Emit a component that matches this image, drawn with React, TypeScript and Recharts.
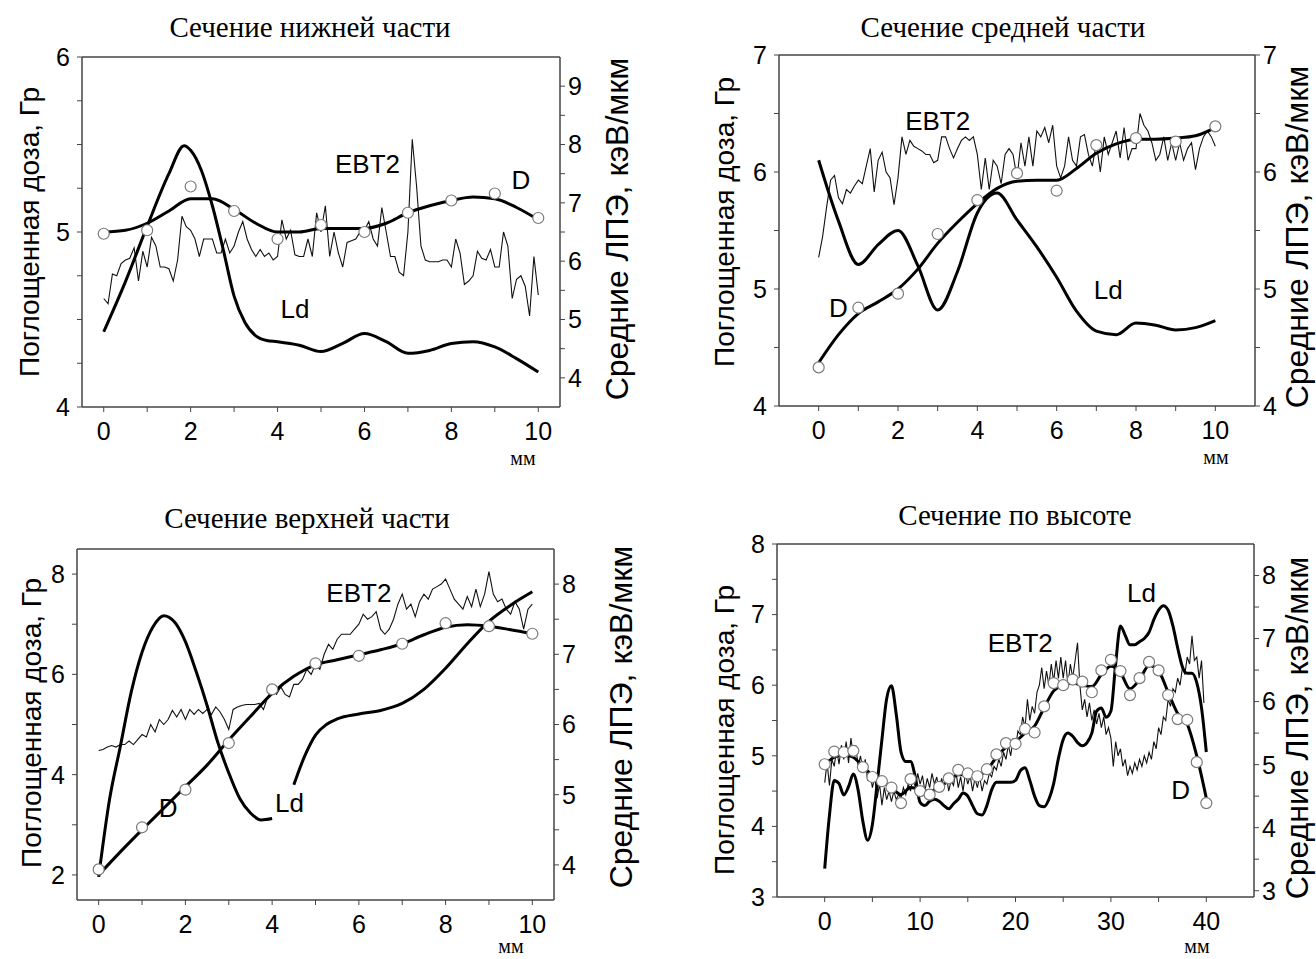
import React from 'react'
import { LineChart, Line, XAxis, YAxis, ReferenceDot, ReferenceLine } from 'recharts'

const SANS = '"Liberation Sans", Arial, sans-serif'
const SERIF = '"Liberation Serif", "Times New Roman", serif'

// ---------- panel 1: Сечение нижней части ----------
const p1DoseX = [0, 1, 2, 3, 4, 5, 6, 7, 8, 9, 10]
const p1DosePts = [4.99, 5.01, 5.26, 5.12, 4.96, 5.04, 5.0, 5.11, 5.18, 5.22, 5.08]
const p1FitX = [0, 0.5, 1, 1.5, 2, 2.5, 3, 3.5, 4, 4.5, 5, 5.5, 6, 6.5, 7, 7.5, 8, 8.5, 9, 9.5, 10]
const p1DoseFit = [5.0, 5.01, 5.05, 5.12, 5.19, 5.19, 5.13, 5.05, 5.0, 5.0, 5.02, 5.02, 5.02, 5.05, 5.11, 5.15, 5.18, 5.2, 5.19, 5.14, 5.07]
const p1LdX = [0, 0.5, 1, 1.5, 1.85, 2, 2.25, 2.5, 2.75, 3, 3.25, 3.5, 3.75, 4, 4.5, 5, 5.5, 6, 6.5, 7, 7.5, 8, 8.5, 9, 9.5, 10]
const p1Ld = [4.79, 5.65, 6.6, 7.5, 7.98, 7.9, 7.55, 6.95, 6.2, 5.4, 4.95, 4.72, 4.64, 4.62, 4.56, 4.45, 4.59, 4.76, 4.62, 4.42, 4.47, 4.59, 4.62, 4.53, 4.33, 4.1]
const p1Ebt = [
  4.62, 4.59, 4.76, 4.75, 4.82, 4.84, 4.85, 4.91, 4.72, 4.89,
  4.8, 4.97, 4.92, 4.8, 4.8, 4.79, 4.72, 4.84, 5.09, 5.03,
  5.01, 4.96, 4.86, 4.96, 4.96, 4.96, 4.88, 4.88, 4.96, 4.88,
  4.92, 5.0, 5.06, 4.96, 4.9, 4.86, 4.9, 4.86, 4.88, 4.84,
  4.86, 5.07, 4.96, 5.01, 4.87, 4.86, 4.86, 4.96, 4.86, 5.11,
  5.0, 5.15, 4.86, 5.0, 4.88, 4.8, 4.94, 4.95, 4.96, 5.0,
  5.01, 5.06, 4.96, 4.92, 5.14, 5.0, 4.86, 4.86, 4.77, 4.75,
  5.0, 5.53, 5.26, 4.92, 4.84, 4.83, 4.83, 4.83, 4.84, 4.84,
  4.8, 4.96, 4.88, 4.7, 4.72, 4.75, 4.89, 4.85, 4.84, 4.9,
  4.8, 4.8, 5.0, 4.92, 4.62, 4.73, 4.75, 4.69, 4.52, 4.86,
  4.64,
]

// ---------- panel 2: Сечение средней части ----------
const p2DosePts = [4.33, 4.84, 4.96, 5.47, 5.76, 5.99, 5.84, 6.23, 6.29, 6.26, 6.39]
const p2DoseFit = [4.37, 4.61, 4.79, 4.89, 5.0, 5.17, 5.39, 5.57, 5.73, 5.86, 5.92, 5.93, 5.93, 6.03, 6.16, 6.24, 6.28, 6.28, 6.29, 6.31, 6.38]
const p2Ld = [6.1, 5.58, 5.21, 5.38, 5.5, 5.2, 4.82, 5.15, 5.65, 5.82, 5.59, 5.36, 5.1, 4.81, 4.64, 4.61, 4.71, 4.69, 4.65, 4.67, 4.73]
const p2Ebt = [
  5.27, 5.45, 5.7, 5.93, 5.97, 5.78, 5.73, 5.85, 5.82, 5.88,
  5.93, 5.9, 6.05, 6.2, 5.83, 6.1, 6.17, 6.0, 5.95, 5.72,
  5.95, 6.3, 6.15, 6.27, 6.22, 6.2, 6.18, 6.15, 6.15, 6.08,
  6.1, 6.3, 6.3, 6.2, 6.12, 6.2, 6.27, 6.3, 6.27, 6.3,
  6.15, 5.85, 6.12, 5.85, 6.1, 6.05, 5.9, 6.15, 6.2, 6.15,
  5.95, 6.25, 6.05, 6.3, 6.05, 6.35, 6.3, 6.38, 6.25, 6.4,
  6.05, 5.95, 6.05, 6.3, 6.1, 6.05, 6.3, 6.32, 6.15, 6.05,
  6.25, 6.0, 6.3, 6.15, 6.25, 6.35, 6.12, 6.38, 6.1, 6.2,
  6.2, 6.5, 6.4, 6.35, 6.25, 6.1, 6.15, 6.3, 6.1, 6.25,
  6.1, 6.25, 6.1, 6.2, 6.25, 6.02, 6.2, 6.3, 6.35, 6.3,
  6.22,
]

// ---------- panel 3: Сечение верхней части ----------
const p3DosePts = [2.11, 2.95, 3.7, 4.63, 5.7, 6.22, 6.37, 6.61, 7.02, 6.96, 6.81]
const p3DoseFit = [2.0, 2.46, 2.9, 3.33, 3.76, 4.19, 4.69, 5.16, 5.62, 5.96, 6.19, 6.29, 6.39, 6.49, 6.61, 6.79, 6.94, 6.99, 6.96, 6.89, 6.81]
const p3LdX = [0, 0.25, 0.5, 0.75, 1, 1.25, 1.5, 1.75, 2, 2.25, 2.5, 2.75, 3, 3.25, 3.5, 3.75, 4, 4.25, 4.5, 4.75, 5, 5.25, 5.5, 6, 6.5, 7, 7.5, 8, 8.5, 9, 9.5, 10]
const p3Ld = [3.83, 4.93, 5.69, 6.46, 7.03, 7.39, 7.55, 7.46, 7.18, 6.75, 6.27, 5.74, 5.31, 4.95, 4.74, 4.64, 4.66, null, 5.14, 5.55, 5.85, 6.0, 6.08, 6.15, 6.2, 6.3, 6.5, 6.8, 7.15, 7.47, 7.7, 7.89]
const p3Ebt = [
  4.48, 4.5, 4.55, 4.58, 4.55, 4.6, 4.6, 4.67, 4.6, 4.7,
  4.8, 4.75, 5.0, 4.85, 5.1, 5.0, 5.1, 5.28, 5.15, 5.3,
  5.1, 5.3, 5.2, 5.3, 5.22, 5.3, 5.2, 5.35, 5.25, 5.1,
  4.9, 5.3, 5.35, 5.38, 5.4, 5.4, 5.4, 5.42, 5.3, 5.55,
  5.7, 5.6, 5.75, 5.6, 5.55, 5.8, 5.8, 5.9, 6.1, 6.0,
  6.2, 6.1, 6.4, 6.6, 6.5, 6.7, 6.8, 6.8, 6.8, 6.9,
  7.0, 7.2, 7.1, 7.15, 7.25, 6.9, 6.8, 6.9, 7.1, 7.4,
  7.6, 7.3, 7.4, 7.15, 7.45, 7.6, 7.5, 7.7, 7.75, 7.8,
  7.9, 7.7, 7.5, 7.4, 7.3, 7.55, 7.35, 7.7, 7.35, 7.6,
  8.05, 7.6, 7.45, 7.5, 7.3, 7.2, 7.45, 7.3, 6.9, 7.3,
  7.4,
]

// ---------- panel 4: Сечение по высоте ----------
const p4DosePts = [
  4.88, 5.06, 5.05, 5.07, 4.84, 4.7, 4.64, 4.55, 4.33, 4.67,
  4.5, 4.45, 4.56, 4.68, 4.8, 4.75, 4.71, 4.81, 5.02, 5.18,
  5.17, 5.38, 5.33, 5.7, 6.03, 6.0, 6.08, 6.05, 5.9, 6.21,
  6.36, 6.2, 5.86, 6.1, 6.33, 6.21, 5.86, 5.52, 5.51, 4.91,
  4.33,
]
const p4DoseFit = [
  4.88, 4.98, 5.02, 4.98, 4.85, 4.72, 4.63, 4.55, 4.45, 4.55,
  4.52, 4.5, 4.55, 4.65, 4.73, 4.73, 4.72, 4.8, 4.98, 5.12,
  5.2, 5.32, 5.42, 5.68, 5.92, 6.0, 6.03, 6.0, 5.98, 6.15,
  6.27, 6.18, 5.95, 6.08, 6.28, 6.2, 5.9, 5.6, 5.45, 5.0,
  4.4,
]
const p4Ld = [
  3.35, 4.2, 4.75, 4.7, 4.52, 4.65, 4.85, 4.6, 4.1, 3.8,
  4.05, 4.7, 5.4, 6.05, 6.25, 5.8, 5.2, 5.05, 5.05, 4.8,
  4.4, 4.35, 4.42, 4.45, 4.42, 4.35, 4.3, 4.38, 4.45, 4.55,
  4.5, 4.35, 4.22, 4.2, 4.35, 4.6, 4.72, 4.72, 4.72, 4.72,
  4.75, 4.9, 4.95, 4.75, 4.5, 4.35, 4.33, 4.45, 4.7, 5.1,
  5.4, 5.5, 5.45, 5.35, 5.3, 5.35, 5.5, 5.85, 5.9, 5.75,
  5.85, 6.6, 7.2, 7.05, 6.9, 6.9, 6.95, 7.0, 7.1, 7.3,
  7.45, 7.52, 7.45, 7.2, 6.85, 6.55, 6.45, 6.45, 6.3, 5.9,
  5.2,
]
const p4Ebt = [
  4.62, 4.9, 4.58, 4.95, 4.85, 5.1, 4.88, 5.15, 4.95, 5.2,
  4.9, 5.25, 5.0, 5.15, 4.85, 5.0, 4.8, 4.95, 4.65, 4.75,
  4.55, 4.7, 4.4, 4.6, 4.3, 4.55, 4.38, 4.5, 4.35, 4.5,
  4.38, 4.45, 4.4, 4.55, 4.45, 4.6, 4.5, 4.7, 4.55, 4.75,
  4.6, 4.72, 4.5, 4.68, 4.55, 4.75, 4.6, 4.7, 4.5, 4.68,
  4.55, 4.72, 4.5, 4.65, 4.58, 4.78, 4.55, 4.7, 4.5, 4.75,
  4.6, 4.72, 4.5, 4.68, 4.55, 4.7, 4.5, 4.65, 4.6, 4.75,
  4.7, 4.85, 4.8, 4.95, 4.85, 5.05, 4.95, 5.15, 5.0, 5.25,
  5.1, 5.35, 5.3, 5.55, 5.4, 5.8, 5.5, 5.7, 5.6, 5.9,
  6.0, 6.25, 5.95, 6.2, 6.0, 6.3, 6.05, 6.35, 6.1, 6.4,
  6.1, 6.35, 6.0, 6.3, 6.1, 6.35, 6.6, 6.0, 5.65, 5.8,
  5.55, 5.75, 5.5, 5.65, 5.45, 5.6, 5.4, 5.55, 5.3, 5.4,
  5.25, 4.85, 5.2, 5.0, 5.1, 4.85, 4.95, 4.72, 4.85, 4.75,
  4.9, 4.8, 4.95, 4.85, 5.0, 4.9, 5.05, 4.95, 5.2, 5.1,
  5.4, 5.3, 5.55, 5.5, 5.8, 5.7, 5.95, 5.9, 6.1, 6.0,
  6.25, 6.15, 6.4, 6.3, 6.7, 6.35, 6.4, 6.1, 6.35, 5.75,
]

// ---------- ticks ----------
const ticks0to10 = [0, 1, 2, 3, 4, 5, 6, 7, 8, 9, 10]
const ticks0to40 = [0, 5, 10, 15, 20, 25, 30, 35, 40]
const p1LeftTicks = [4, 4.25, 4.5, 4.75, 5, 5.25, 5.5, 5.75, 6]
const p1RightTicks = [4, 4.5, 5, 5.5, 6, 6.5, 7, 7.5, 8, 8.5, 9]
const p2Ticks = [4, 4.5, 5, 5.5, 6, 6.5, 7]
const p3LeftTicks = [2, 3, 4, 5, 6, 7, 8]
const p3RightTicks = [4, 4.5, 5, 5.5, 6, 6.5, 7, 7.5, 8]
const p4Ticks = [3, 3.5, 4, 4.5, 5, 5.5, 6, 6.5, 7, 7.5, 8]

const steps = (n: number, step: number) => Array.from({ length: n }, (_, i) => +(i * step).toFixed(2))
const zip = (xs: number[], ys: (number | null)[]) => xs.map((x, i) => ({ x, y: ys[i] }))

const intLabel = (v: number) => (Number.isInteger(v) ? String(v) : '')
const evenLabel = (v: number) => (v % 2 === 0 ? String(v) : '')
const tenLabel = (v: number) => (v % 10 === 0 ? String(v) : '')

const panels = [
  {
    title: 'Сечение нижней части',
    titleX: 310, titleY: 27,
    frame: { l: 82, r: 560, t: 57, b: 407 },
    xDomain: [-0.5, 10.5], xTicks: ticks0to10, xFmt: evenLabel,
    leftDomain: [4, 6], leftTicks: p1LeftTicks, leftFmt: intLabel,
    rightDomain: [3.5, 9.5], rightTicks: p1RightTicks, rightFmt: intLabel,
    ebt: zip(steps(101, 0.1), p1Ebt),
    ld: zip(p1LdX, p1Ld),
    fit: zip(p1FitX, p1DoseFit),
    pts: zip(p1DoseX, p1DosePts),
    notes: [{ t: 'EBT2', x: 6.07, y: 5.39 }, { t: 'D', x: 9.6, y: 5.3 }, { t: 'Ld', x: 4.4, y: 4.56 }],
    leftLab: { x: 30, y: 232 }, rightLab: { x: 617, y: 229 }, mm: { x: 523, y: 458 },
  },
  {
    title: 'Сечение средней части',
    titleX: 1003, titleY: 27,
    frame: { l: 779, r: 1255, t: 55, b: 406 },
    xDomain: [-1, 11], xTicks: ticks0to10, xFmt: evenLabel,
    leftDomain: [4, 7], leftTicks: p2Ticks, leftFmt: intLabel,
    rightDomain: [4, 7], rightTicks: p2Ticks, rightFmt: intLabel,
    ebt: zip(steps(101, 0.1), p2Ebt),
    ld: zip(p1FitX, p2Ld),
    fit: zip(p1FitX, p2DoseFit),
    pts: zip(p1DoseX, p2DosePts),
    notes: [{ t: 'EBT2', x: 3.0, y: 6.44 }, { t: 'D', x: 0.5, y: 4.84 }, { t: 'Ld', x: 7.3, y: 4.99 }],
    leftLab: { x: 725, y: 222 }, rightLab: { x: 1297, y: 237 }, mm: { x: 1216, y: 457 },
  },
  {
    title: 'Сечение верхней части',
    titleX: 307, titleY: 518,
    frame: { l: 77, r: 554, t: 549, b: 900 },
    xDomain: [-0.5, 10.5], xTicks: ticks0to10, xFmt: evenLabel,
    leftDomain: [1.5, 8.5], leftTicks: p3LeftTicks, leftFmt: evenLabel,
    rightDomain: [3.5, 8.5], rightTicks: p3RightTicks, rightFmt: intLabel,
    ebt: zip(steps(101, 0.1), p3Ebt),
    ld: zip(p3LdX, p3Ld),
    fit: zip(p1FitX, p3DoseFit),
    pts: zip(p1DoseX, p3DosePts),
    notes: [{ t: 'EBT2', x: 6.0, y: 7.62 }, { t: 'D', x: 1.6, y: 3.33 }, { t: 'Ld', x: 4.4, y: 3.43 }],
    leftLab: { x: 32, y: 723 }, rightLab: { x: 621, y: 717 }, mm: { x: 511, y: 946 },
  },
  {
    title: 'Сечение по высоте',
    titleX: 1015, titleY: 515,
    frame: { l: 777, r: 1254, t: 544, b: 897 },
    xDomain: [-5, 45], xTicks: ticks0to40, xFmt: tenLabel,
    leftDomain: [3, 8], leftTicks: p4Ticks, leftFmt: intLabel,
    rightDomain: [2.9, 8.5], rightTicks: p4Ticks, rightFmt: intLabel,
    ebt: zip(steps(160, 0.25), p4Ebt),
    ld: zip(steps(81, 0.5), p4Ld),
    fit: zip(steps(41, 1), p4DoseFit),
    pts: zip(steps(41, 1), p4DosePts),
    notes: [{ t: 'EBT2', x: 20.5, y: 6.6 }, { t: 'Ld', x: 33.2, y: 7.31 }, { t: 'D', x: 37.3, y: 4.52 }],
    leftLab: { x: 725, y: 730 }, rightLab: { x: 1297, y: 728 }, mm: { x: 1197, y: 946 },
  },
]

const AXIS = '#444'
const tickStyle = { fill: '#000', fontSize: 25, fontFamily: SANS }

function Panel({ p }: { p: any }) {
  const LW = 60, RW = 60, MT = 22, XH = 50
  const { frame } = p
  const width = frame.r - frame.l + LW + RW
  const height = frame.b - frame.t + MT + XH
  const rot = (x: number, y: number, size: number, text: string) => (
    <div
      style={{
        position: 'absolute', left: x, top: y, transform: 'translate(-50%, -50%) rotate(-90deg)',
        whiteSpace: 'nowrap', fontFamily: SANS, fontSize: size, color: '#000', lineHeight: 1,
      }}
    >
      {text}
    </div>
  )
  return (
    <>
      <div style={{ position: 'absolute', left: p.titleX, top: p.titleY, transform: 'translate(-50%, -50%)', whiteSpace: 'nowrap', fontFamily: SERIF, fontSize: 29, lineHeight: 1 }}>
        {p.title}
      </div>
      {rot(p.leftLab.x, p.leftLab.y, 28, 'Поглощенная доза, Гр')}
      {rot(p.rightLab.x, p.rightLab.y, 32, 'Средние ЛПЭ, кэВ/мкм')}
      <div style={{ position: 'absolute', left: p.mm.x, top: p.mm.y, transform: 'translate(-50%, -50%)', fontFamily: SERIF, fontSize: 20, lineHeight: 1 }}>
        мм
      </div>
      <div style={{ position: 'absolute', left: frame.l - LW, top: frame.t - MT }}>
        <LineChart width={width} height={height} margin={{ top: MT, right: 0, bottom: 0, left: 0 }}>
          <XAxis
            dataKey="x" type="number" domain={p.xDomain} ticks={p.xTicks} tickFormatter={p.xFmt}
            allowDataOverflow height={XH} axisLine={{ stroke: AXIS, strokeWidth: 1.5 }}
            tickLine={{ stroke: AXIS }} tickSize={5} tickMargin={10} tick={tickStyle} interval={0}
          />
          <YAxis
            yAxisId="left" type="number" domain={p.leftDomain} ticks={p.leftTicks} tickFormatter={p.leftFmt}
            allowDataOverflow width={LW} axisLine={{ stroke: AXIS, strokeWidth: 1.5 }}
            tickLine={{ stroke: AXIS }} tickSize={5} tickMargin={7} tick={tickStyle} interval={0}
          />
          <YAxis
            yAxisId="right" orientation="right" type="number" domain={p.rightDomain} ticks={p.rightTicks}
            tickFormatter={p.rightFmt} allowDataOverflow width={RW} axisLine={{ stroke: AXIS, strokeWidth: 1.5 }}
            tickLine={{ stroke: AXIS }} tickSize={5} tickMargin={3} tick={tickStyle} interval={0}
          />
          <ReferenceLine yAxisId="left" y={p.leftDomain[1]} stroke={AXIS} strokeWidth={1.5} />
          <Line yAxisId="left" data={p.ebt} dataKey="y" type="linear" stroke="#111" strokeWidth={1.1} dot={false} isAnimationActive={false} />
          <Line yAxisId="right" data={p.ld} dataKey="y" type="monotone" stroke="#000" strokeWidth={3} dot={false} isAnimationActive={false} />
          <Line yAxisId="left" data={p.fit} dataKey="y" type="monotone" stroke="#000" strokeWidth={3} dot={false} isAnimationActive={false} />
          <Line
            yAxisId="left" data={p.pts} dataKey="y" stroke="none" isAnimationActive={false}
            dot={{ r: 5.5, fill: '#fff', stroke: '#7a7a7a', strokeWidth: 1.2 }} activeDot={false}
          />
          {p.notes.map((n: any) => (
            <ReferenceDot
              key={n.t} yAxisId="left" x={n.x} y={n.y} r={0} fill="none" stroke="none"
              label={{ value: n.t, position: 'center', fontSize: 26, fill: '#000', fontFamily: SANS }}
            />
          ))}
        </LineChart>
      </div>
    </>
  )
}

export default function App() {
  return (
    <div style={{ position: 'absolute', left: 0, top: 0, width: 1316, height: 959, background: '#fff', overflow: 'hidden' }}>
      {panels.map((p) => (
        <Panel key={p.title} p={p} />
      ))}
    </div>
  )
}
